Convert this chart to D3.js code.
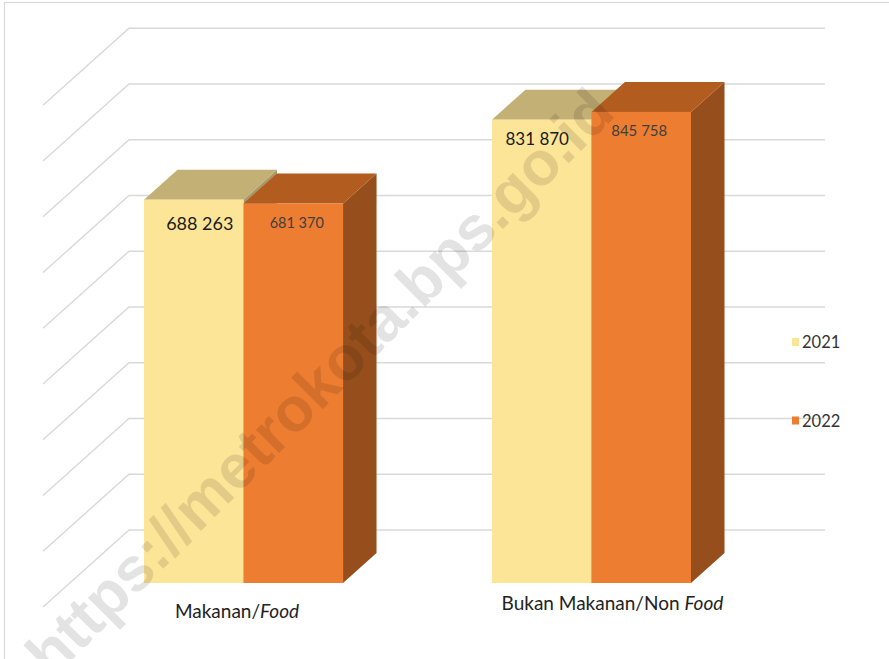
<!DOCTYPE html>
<html><head><meta charset="utf-8">
<script src="https://cdn.jsdelivr.net/npm/d3@7"></script>
<style>html,body{margin:0;padding:0;background:#fff}svg{display:block}text{font-family:Lato,"Open Sans",sans-serif}</style>
</head><body><svg id="c" width="889" height="659"></svg>
<script>
const categories = ["Makanan", "Bukan Makanan/Non "];
const categorySuffix = ["/Food", "Food"];
const seriesNames = ["2021", "2022"];
const values2021 = [688263, 831870];
const values2022 = [681370, 845758];
const valueLabels2021 = ["688 263", "831 870"];
const valueLabels2022 = ["681 370", "845 758"];
const gridValues = [100000,200000,300000,400000,500000,600000,700000,800000,900000,1000000];
const watermark = "https://metrokota.bps.go.id";

const svg = d3.select("#c");
const W = 889, H = 659;
const depthX = 33.5, depthY = 30;
const wallDX = 86, wallDY = 77;
const yFront = d3.scaleLinear().domain([0,1000000]).range([583,26]);
const yWall = d3.scaleLinear().domain([0,1000000]).range([585.7,28.3]);
const xGroup = d3.scaleBand().domain(categories).range([144,691]).paddingInner(0.428).paddingOuter(0);
const xSeries = d3.scaleBand().domain(seriesNames).range([0,xGroup.bandwidth()]);
const fills = {"2021":{front:"#FDE598",top:"#C3B074",side:"#A89A68"},"2022":{front:"#ED7D31",top:"#B35C20",side:"#964F1C"}};
const labelStyle = {
  "2021":[{dx:6,dy:30,size:18,fill:"#1a1a1a"},{dx:-4.5,dy:25.5,size:17,fill:"#1a1a1a"}],
  "2022":[{dx:3.5,dy:24.5,size:14.5,fill:"#404040"},{dx:-2,dy:24.5,size:15,fill:"#404040"}]
};

// frame
svg.append("rect").attr("x",4.5).attr("y",2.5).attr("width",W).attr("height",H).attr("fill","#fff").attr("stroke","#d9d9d9").attr("stroke-width",1.2);

// grid
const grid = svg.append("g").attr("fill","none").attr("stroke","#d9d9d9").attr("stroke-width",1.4);
grid.selectAll("path").data(gridValues).join("path")
  .attr("d",v=>{const y=yWall(v);return d3.line()([[129-wallDX,y+wallDY],[129,y],[825,y]]);});

// bars
const bars = [];
categories.forEach((c,i)=>{
  bars.push({c,i,s:"2021",v:values2021[i],label:valueLabels2021[i]});
  bars.push({c,i,s:"2022",v:values2022[i],label:valueLabels2022[i]});
});
const gBars = svg.append("g");
bars.forEach(b=>{
  const x0=xGroup(b.c)+xSeries(b.s), x1=x0+xSeries.bandwidth(), y0=yFront(0), yt=yFront(b.v), f=fills[b.s];
  const g=gBars.append("g");
  g.append("path").attr("fill",f.side).attr("d",d3.line()([[x1,yt],[x1+depthX,yt-depthY],[x1+depthX,y0-depthY],[x1,y0]])+"Z");
  g.append("path").attr("fill",f.top).attr("d",d3.line()([[x0,yt],[x0+depthX,yt-depthY],[x1+depthX,yt-depthY],[x1,yt]])+"Z");
  g.append("rect").attr("x",x0).attr("y",yt).attr("width",x1-x0).attr("height",y0-yt).attr("fill",f.front);
  b.x0=x0;b.x1=x1;b.yt=yt;
});

// watermark
svg.append("text").text(watermark)
  .attr("transform","translate(617,115) rotate(-45)")
  .attr("text-anchor","end")
  .attr("font-size",62).attr("font-weight",700)
  .style("font-family","'Liberation Sans',sans-serif")
  .attr("fill","#000").attr("fill-opacity",0.11);

// value labels
bars.forEach(b=>{
  const st=labelStyle[b.s][b.i];
  svg.append("text").text(b.label)
    .attr("x",(b.x0+b.x1)/2+st.dx).attr("y",b.yt+st.dy)
    .attr("text-anchor","middle")
    .attr("font-size",st.size)
    .attr("fill",st.fill);
});

// category labels
const catY=[618,610], catX=[237,612.5];
categories.forEach((c,i)=>{
  const t=svg.append("text").attr("x",catX[i]).attr("y",catY[i]).attr("text-anchor","middle").attr("font-size",19).attr("fill","#222");
  if(i===0){t.append("tspan").text(c+"/");t.append("tspan").attr("font-style","italic").text(categorySuffix[i].slice(1));}
  else{t.append("tspan").text(c);t.append("tspan").attr("font-style","italic").text(categorySuffix[i]);}
});

// legend
const legY=[342,420.5];
seriesNames.forEach((s,i)=>{
  svg.append("rect").attr("x",792).attr("y",legY[i]-4).attr("width",7).attr("height",8).attr("fill",fills[s].front);
  svg.append("text").text(s).attr("x",802).attr("y",legY[i]+6).attr("font-size",16.5).attr("fill","#333");
});
</script></body></html>
